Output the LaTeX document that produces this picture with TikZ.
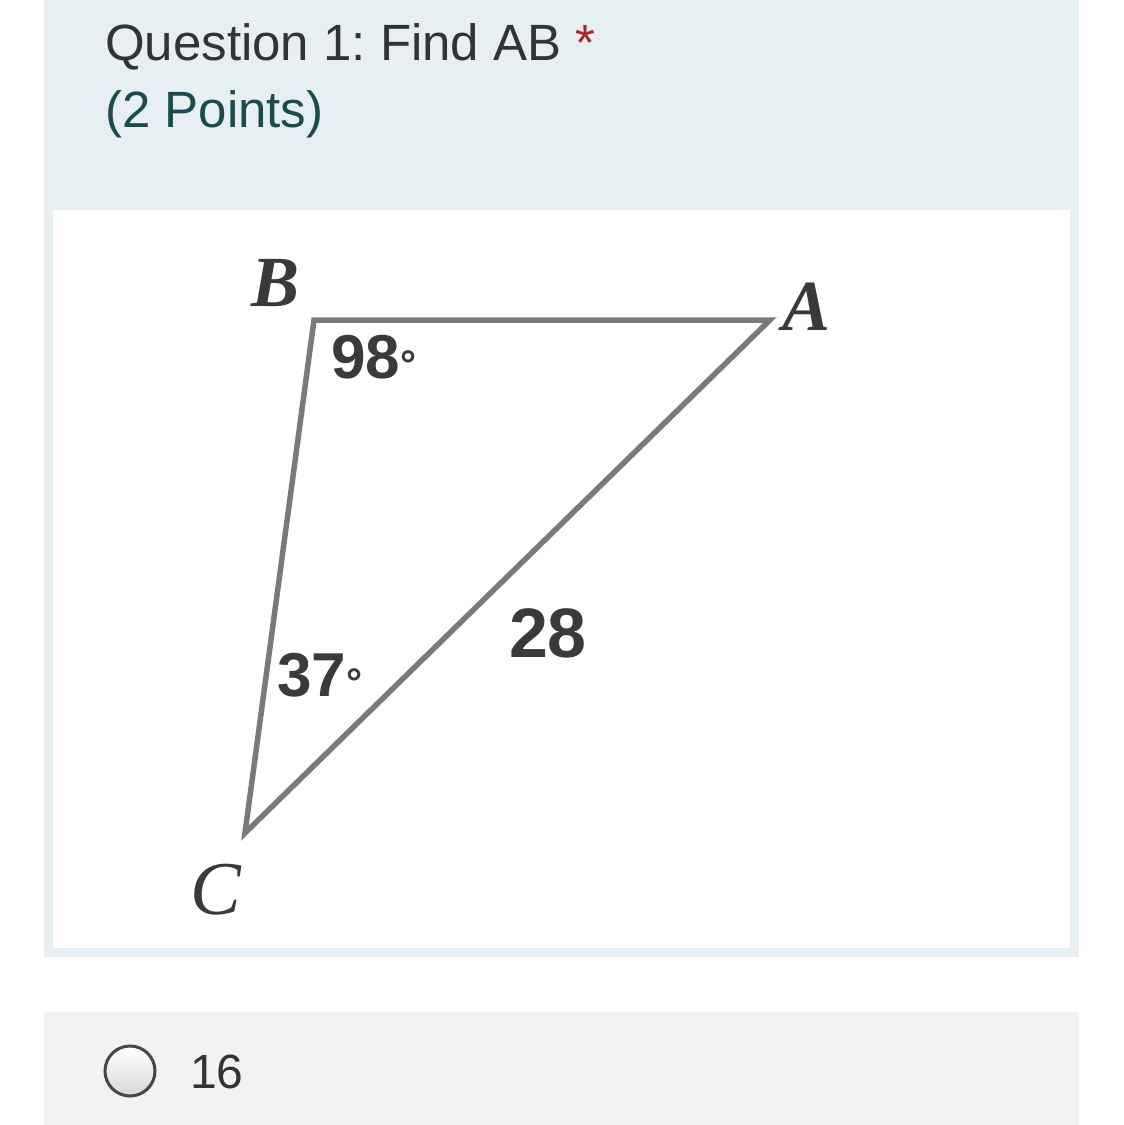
\documentclass[tikz,border=0pt]{standalone}
\usepackage{fontspec}
\setmainfont{Liberation Sans}
\newfontfamily\figfont{Liberation Serif}
\frenchspacing
\definecolor{panelbg}{HTML}{E8EFF2}
\definecolor{optionbg}{HTML}{F2F2F2}
\definecolor{titlegray}{HTML}{333333}
\definecolor{pointsteal}{HTML}{1B4B4B}
\definecolor{starred}{HTML}{A52A2A}
\definecolor{edgegray}{HTML}{7A7A7A}
\definecolor{labelgray}{HTML}{3A3A3A}
\newcommand{\smalldeg}{{\fontsize{40}{40}\selectfont °}}
\tikzset{
  qtext/.style={anchor=base west,inner sep=0pt,font=\fontsize{51}{51}\selectfont},
  vertexlbl/.style={inner sep=0pt,text=labelgray,font=\figfont\bfseries\itshape\fontsize{72}{72}\selectfont},
  anglelbl/.style={inner sep=0pt,text=labelgray,font=\bfseries\fontsize{62}{62}\selectfont},
  side/.style={edgegray,line width=5.5pt,line join=miter}
}
\begin{document}
\begin{tikzpicture}[x=1pt,y=-1pt]
\useasboundingbox (0,0) rectangle (1124,1125);
\fill[white] (0,0) rectangle (1124,1125);
\fill[panelbg] (44,0) rectangle (1079,957);
\fill[white] (53,210) rectangle (1070,948);
\fill[optionbg] (44,1012) rectangle (1079,1125);
\node[qtext,text=titlegray] (title) at (105,60)
  {Question 1: Find AB {\color{starred}*}};
\node[qtext,text=pointsteal] (points) at (105,127) {(2 Points)};
\coordinate (B) at (314,320);
\coordinate (A) at (770,320);
\coordinate (C) at (245,833);
\draw[side] (B) -- (A) -- (C) -- cycle;
\node[vertexlbl] (lblB) at (276,283) {B};
\node[vertexlbl] (lblA) at (807,307) {A};
\node[vertexlbl,font=\figfont\itshape\fontsize{76}{76}\selectfont] (lblC) at (216,890) {C};
\node[anglelbl] (ang98) at (374,357) {98\smalldeg};
\node[anglelbl] (ang37) at (320,675) {37\smalldeg};
\node[anglelbl,font=\bfseries\fontsize{70}{70}\selectfont] (side28) at (548,633) {28};
\shade[top color=white,bottom color=black!15,draw=black!72,line width=3pt]
  (130,1071) circle[radius=25];
\node[qtext,text=titlegray,font=\fontsize{48}{48}\selectfont] (opt16) at (190,1088) {16};
\end{tikzpicture}
\end{document}
